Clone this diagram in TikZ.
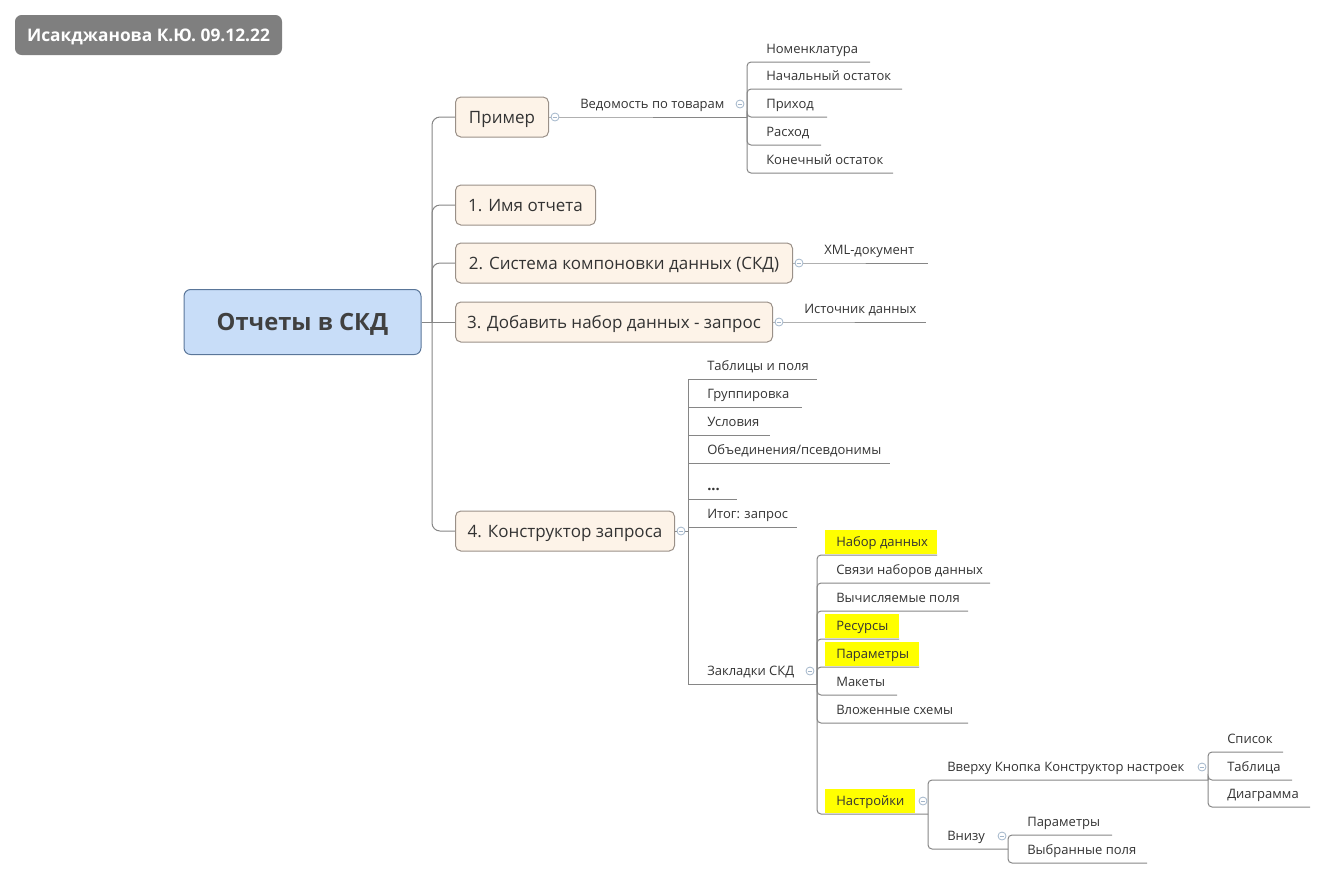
\documentclass[tikz,border=0pt]{standalone}
\usepackage{fontspec}
\setmainfont{Open Sans}
\usetikzlibrary{backgrounds}
\definecolor{linec}{HTML}{868686}
\definecolor{mainfill}{HTML}{FDF3E8}
\definecolor{maindraw}{HTML}{9A9088}
\definecolor{rootfill}{HTML}{C8DDF8}
\definecolor{rootdraw}{HTML}{5A7699}
\definecolor{txt}{HTML}{333333}
\definecolor{markc}{HTML}{A3B6CA}
\definecolor{hlc}{HTML}{FFFF00}
\definecolor{titlefill}{HTML}{7F7F7F}
\newcommand\mmsub[6][]{%
  \coordinate (#2-s) at (#3,#4);
  \coordinate (#2-e) at (#5,#4);
  \node[subtxt,#1] (#2) at (#3+19,#4-13) {#6};
}
\newcommand\mmhl[3]{\fill[hlc] (#1,#2-25) rectangle (#3,#2-1);}
\begin{document}
\begin{tikzpicture}[x=0.75pt,y=-0.75pt,
 conn/.style={draw=linec, line width=0.75pt},
 rconn/.style={conn, rounded corners=3pt},
 branch/.style={draw=maindraw, fill=mainfill, rounded corners=4pt, line width=0.75pt, anchor=west, minimum height=30pt, inner sep=0pt, text height=9.1pt, text depth=0pt, font=\fontsize{12.75}{15}\selectfont, text=txt},
 subtxt/.style={anchor=west, inner sep=0pt, text height=7pt, text depth=0pt, font=\fontsize{9.75}{12}\selectfont, text=txt},
 markr/.style={circle, draw=markc, fill=white, line width=0.6pt, minimum size=6pt, inner sep=0pt, path picture={\draw[markc, line width=0.6pt] ([xshift=-1.7pt]path picture bounding box.center) -- ([xshift=1.7pt]path picture bounding box.center);}},
]
\useasboundingbox (0,0) rectangle (1327,879);

% title
\node[fill=titlefill, rounded corners=5pt, minimum width=200.25pt, minimum height=30pt, inner sep=0pt, text height=9.3pt, text depth=0pt, text=white, font=\bfseries\fontsize{13}{15}\selectfont] (title) at (148.5,35) {Исакджанова К.Ю. 09.12.22};

% root
\node[draw=rootdraw, fill=rootfill, rounded corners=5pt, line width=0.75pt, minimum width=177.75pt, minimum height=48.75pt, inner sep=0pt, text height=12.7pt, text depth=0pt, text=black!75, font=\bfseries\fontsize{17.8}{21}\selectfont] (root) at (302.5,322) {Отчеты в СКД};
\coordinate (trunk) at (432,322);

% branches
\node[branch, minimum width=69.75pt] (b0) at (455,117) {Пример};
\node[branch, minimum width=105pt] (b1) at (455,205) {1. Имя отчета};
\node[branch, minimum width=252.75pt] (b2) at (455,263) {2. Система компоновки данных (СКД)};
\node[branch, minimum width=237.75pt] (b3) at (455,322) {3. Добавить набор данных - запрос};
\node[branch, minimum width=164.25pt] (b4) at (455,531) {4. Конструктор запроса};
\coordinate (b4j) at (688,531);

% subtopics
\mmsub{ved}{561}{117}{747}{Ведомость по товарам}
\mmsub{nom}{747}{62}{870}{Номенклатура}
\mmsub{nach}{747}{89}{902}{Начальный остаток}
\mmsub{prih}{747}{117}{827}{Приход}
\mmsub{rash}{747}{145}{821}{Расход}
\mmsub{kon}{747}{173}{893}{Конечный остаток}

\mmsub{xml}{805}{263}{928}{XML-документ}
\mmsub{ist}{785}{322}{926}{Источник данных}

\mmsub{tab}{688}{379}{817}{Таблицы и поля}
\mmsub{grp}{688}{407}{802}{Группировка}
\mmsub{usl}{688}{435}{770}{Условия}
\mmsub{obj}{688}{463}{890}{Объединения/псевдонимы}
\mmsub[font=\bfseries\fontsize{11}{13}\selectfont]{dots}{688}{499}{737}{...}
\mmsub{itog}{688}{527}{797}{Итог: запрос}
\mmsub{zak}{688}{684}{817}{Закладки СКД}

\mmsub{nabor}{817}{555}{937}{Набор данных}
\mmsub{svyaz}{817}{583}{990}{Связи наборов данных}
\mmsub{vych}{817}{611}{968}{Вычисляемые поля}
\mmsub{res}{817}{639}{899}{Ресурсы}
\mmsub{par}{817}{667}{919}{Параметры}
\mmsub{mak}{817}{695}{897}{Макеты}
\mmsub{vloz}{817}{723}{968}{Вложенные схемы}
\mmsub{nast}{817}{814}{928}{Настройки}

\mmsub{verh}{928}{780}{1208}{Вверху Кнопка Конструктор настроек}
\mmsub{vniz}{928}{849}{1008}{Внизу}
\mmsub{spis}{1208}{752}{1283}{Список}
\mmsub{tabl}{1208}{780}{1292}{Таблица}
\mmsub{diag}{1208}{807}{1310}{Диаграмма}
\mmsub{par2}{1008}{835}{1112}{Параметры}
\mmsub{vyb}{1008}{863}{1147}{Выбранные поля}

% collapse markers
\node[markr] (m0) at (555,117) {};
\node[markr] (m2) at (799,263) {};
\node[markr] (m3) at (779,322) {};
\node[markr] (m4) at (681,531) {};
\node[markr] (mved) at (740,104) {};
\node[markr] (mzak) at (810,671) {};
\node[markr] (mnast) at (923,801) {};
\node[markr] (mverh) at (1202,767) {};
\node[markr] (mvniz) at (1002,836) {};

\begin{pgfonlayer}{background}
% highlights
\mmhl{825}{555}{937}
\mmhl{825}{639}{899}
\mmhl{825}{667}{919}
\mmhl{825}{814}{915}
% trunk connectors
\draw[conn] (root.east) -- (b3.west);
\foreach \b in {b0,b1,b2,b4}{\draw[conn, rounded corners=6pt] (trunk) |- (\b.west);}
% Пример
\draw[conn] (b0.east) -- (ved-s) -- (ved-e);
\foreach \c in {nom,nach,prih,rash,kon}{\draw[rconn] (ved-e) -- (\c-s) -- (\c-e);}
\draw[conn] (b2.east) -- (xml-s) -- (xml-e);
\draw[conn] (b3.east) -- (ist-s) -- (ist-e);
% 4
\draw[conn] (b4.east) -- (b4j);
\foreach \c in {tab,grp,usl,obj,dots,itog,zak}{\draw[conn] (b4j) -- (\c-s) -- (\c-e);}
\foreach \c in {nabor,svyaz,vych,res,par,mak,vloz,nast}{\draw[rconn] (zak-e) -- (\c-s) -- (\c-e);}
\foreach \c in {verh,vniz}{\draw[rconn] (nast-e) -- (\c-s) -- (\c-e);}
\foreach \c in {spis,tabl,diag}{\draw[rconn] (verh-e) -- (\c-s) -- (\c-e);}
\foreach \c in {par2,vyb}{\draw[rconn] (vniz-e) -- (\c-s) -- (\c-e);}
\end{pgfonlayer}
\end{tikzpicture}
\end{document}
